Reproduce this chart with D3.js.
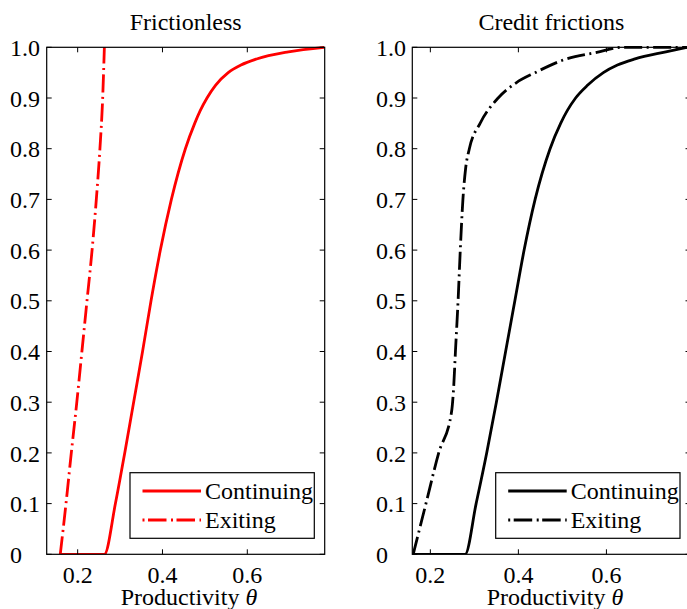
<!DOCTYPE html>
<html>
<head>
<meta charset="utf-8">
<script src="https://cdn.jsdelivr.net/npm/d3@7"></script>
<style>
  html, body { margin: 0; padding: 0; background: #fff; }
  svg { display: block; }
  text { font-family: "Liberation Serif", "Times New Roman", Times, serif; fill: #000; }
</style>
</head>
<body>
<svg id="chart" width="687" height="609"></svg>
<script>
// ---------------- DATA ----------------
const panelTitles = ["Frictionless", "Credit frictions"];
const seriesNames = ["Continuing", "Exiting"];
const xLabel = "Productivity";
const xLabelSymbol = "θ";

const frictionlessXLim = [0.127, 0.7825];
const frictionsXLim = [0.159, 0.791];
const yLim = [0, 1];

const xTickValues = [0.2, 0.4, 0.6];
const xTickLabels = ["0.2", "0.4", "0.6"];
const yTickValues = [0, 0.1, 0.2, 0.3, 0.4, 0.5, 0.6, 0.7, 0.8, 0.9, 1.0];
const yTickLabels = ["0", "0.1", "0.2", "0.3", "0.4", "0.5", "0.6", "0.7", "0.8", "0.9", "1.0"];

// Frictionless: continuing firms (cumulative share)
const frictionlessContinuingTheta = [0.160, 0.263, 0.289, 0.311, 0.332, 0.353, 0.373, 0.395, 0.421, 0.454, 0.476, 0.489, 0.505, 0.525, 0.555, 0.585, 0.622, 0.697, 0.781];
const frictionlessContinuingShare = [0, 0, 0.1, 0.2, 0.3, 0.4, 0.5, 0.6, 0.7, 0.8, 0.85, 0.875, 0.9, 0.925, 0.95, 0.965, 0.977, 0.991, 1.0];
// Frictionless: exiting firms
const frictionlessExitingTheta = [0.159, 0.1725, 0.185, 0.198, 0.210, 0.222, 0.234, 0.244, 0.2525, 0.259, 0.263];
const frictionlessExitingShare = [0, 0.1, 0.2, 0.3, 0.4, 0.5, 0.6, 0.7, 0.8, 0.9, 1.0];

// Credit frictions: continuing firms
const frictionsContinuingTheta = [0.160, 0.279, 0.304, 0.328, 0.350, 0.371, 0.392, 0.413, 0.438, 0.472, 0.496, 0.511, 0.530, 0.557, 0.593, 0.625, 0.665, 0.735, 0.783];
const frictionsContinuingShare = [0, 0, 0.1, 0.2, 0.3, 0.4, 0.5, 0.6, 0.7, 0.8, 0.85, 0.875, 0.9, 0.925, 0.95, 0.965, 0.977, 0.991, 1.0];
// Credit frictions: exiting firms
const frictionsExitingTheta = [0.161, 0.190, 0.219, 0.248, 0.253, 0.257, 0.263, 0.268, 0.274, 0.280, 0.2886, 0.313, 0.354, 0.395, 0.438, 0.502, 0.578, 0.638, 0.791];
const frictionsExitingShare = [0, 0.1, 0.2, 0.28, 0.33, 0.4, 0.5, 0.6, 0.7, 0.76, 0.8, 0.85, 0.9, 0.93, 0.95, 0.975, 0.99, 1.0, 1.0];

// ---------------- DRAW ----------------
const svg = d3.select("#chart");
svg.append("rect").attr("width", 687).attr("height", 609).attr("fill", "#fff");

const zip = (xs, ys) => xs.map((x, i) => [x, ys[i]]);

const panels = [
  {
    title: panelTitles[0], xlim: frictionlessXLim, range: [46.7, 324.7], color: "#ff0000",
    cont: zip(frictionlessContinuingTheta, frictionlessContinuingShare),
    exit: zip(frictionlessExitingTheta, frictionlessExitingShare),
    legend: { x0: 130, x1: 314.3 }, labelLeft: 10, xLabelCenter: 189
  },
  {
    title: panelTitles[1], xlim: frictionsXLim, range: [412.3, 690.5], color: "#000000",
    cont: zip(frictionsContinuingTheta, frictionsContinuingShare),
    exit: zip(frictionsExitingTheta, frictionsExitingShare),
    legend: { x0: 495.7, x1: 680 }, labelLeft: 376, xLabelCenter: 555
  }
];

const yTop = 47.3, yBot = 554.3;
const y = d3.scaleLinear().domain(yLim).range([yBot, yTop]);
const dashDot = "18,4.5,2,4.5";
const tickLen = 5;

panels.forEach((p, pi) => {
  const x = d3.scaleLinear().domain(p.xlim).range(p.range);
  const g = svg.append("g");
  const clipId = "clip" + pi;
  svg.append("clipPath").attr("id", clipId)
    .append("rect")
    .attr("x", p.range[0]).attr("y", yTop - 1.5)
    .attr("width", p.range[1] - p.range[0]).attr("height", yBot - yTop + 1.5);

  const line = d3.line().x(d => x(d[0])).y(d => y(d[1])).curve(d3.curveMonotoneX);

  // curves
  g.append("path").datum(p.cont).attr("d", line)
    .attr("fill", "none").attr("stroke", p.color).attr("stroke-width", 2.8)
    .attr("clip-path", `url(#${clipId})`);
  g.append("path").datum(p.exit).attr("d", line)
    .attr("fill", "none").attr("stroke", p.color).attr("stroke-width", 2.8)
    .attr("stroke-dasharray", dashDot)
    .attr("clip-path", `url(#${clipId})`);

  // box
  const axG = svg.append("g");
  axG.append("rect")
    .attr("x", p.range[0]).attr("y", yTop)
    .attr("width", p.range[1] - p.range[0]).attr("height", yBot - yTop)
    .attr("fill", "none").attr("stroke", "#000").attr("stroke-width", 1.2);

  // x ticks (inward, top and bottom)
  xTickValues.forEach((v, i) => {
    const px = x(v);
    axG.append("line").attr("x1", px).attr("x2", px).attr("y1", yBot).attr("y2", yBot - tickLen)
      .attr("stroke", "#000").attr("stroke-width", 1);
    axG.append("line").attr("x1", px).attr("x2", px).attr("y1", yTop).attr("y2", yTop + tickLen)
      .attr("stroke", "#000").attr("stroke-width", 1);
    axG.append("text").attr("x", px).attr("y", 583)
      .attr("text-anchor", "middle").attr("font-size", 24).text(xTickLabels[i]);
  });
  // y ticks (inward, left and right)
  yTickValues.forEach((v, i) => {
    const py = y(v);
    axG.append("line").attr("x1", p.range[0]).attr("x2", p.range[0] + tickLen).attr("y1", py).attr("y2", py)
      .attr("stroke", "#000").attr("stroke-width", 1);
    axG.append("line").attr("x1", p.range[1]).attr("x2", p.range[1] - tickLen).attr("y1", py).attr("y2", py)
      .attr("stroke", "#000").attr("stroke-width", 1);
    axG.append("text").attr("x", p.labelLeft).attr("y", py).attr("dy", "0.36em")
      .attr("text-anchor", "start").attr("font-size", 24).text(yTickLabels[i]);
  });

  // title
  svg.append("text").attr("x", (p.range[0] + p.range[1]) / 2).attr("y", 30)
    .attr("text-anchor", "middle").attr("font-size", 24).text(p.title);

  // x label
  const xl = svg.append("text").attr("x", p.xLabelCenter).attr("y", 605)
    .attr("text-anchor", "middle").attr("font-size", 24);
  xl.append("tspan").text(xLabel + " ");
  xl.append("tspan").attr("font-style", "italic").text(xLabelSymbol);

  // legend
  const lg = svg.append("g");
  lg.append("rect").attr("x", p.legend.x0).attr("y", 472.7)
    .attr("width", p.legend.x1 - p.legend.x0).attr("height", 65.6)
    .attr("fill", "#fff").attr("stroke", "#000").attr("stroke-width", 1.2);
  const lx0 = p.legend.x0 + 12.5, lx1 = p.legend.x0 + 71;
  lg.append("line").attr("x1", lx0).attr("x2", lx1).attr("y1", 491).attr("y2", 491)
    .attr("stroke", p.color).attr("stroke-width", 2.8);
  lg.append("line").attr("x1", lx0).attr("x2", lx1).attr("y1", 520).attr("y2", 520)
    .attr("stroke", p.color).attr("stroke-width", 2.8)
    .attr("stroke-dasharray", "2,3.5,18.5,4.5");
  lg.append("text").attr("x", lx1 + 4).attr("y", 499).attr("font-size", 24).text(seriesNames[0]);
  lg.append("text").attr("x", lx1 + 4).attr("y", 528).attr("font-size", 24).text(seriesNames[1]);
});
</script>
</body>
</html>
